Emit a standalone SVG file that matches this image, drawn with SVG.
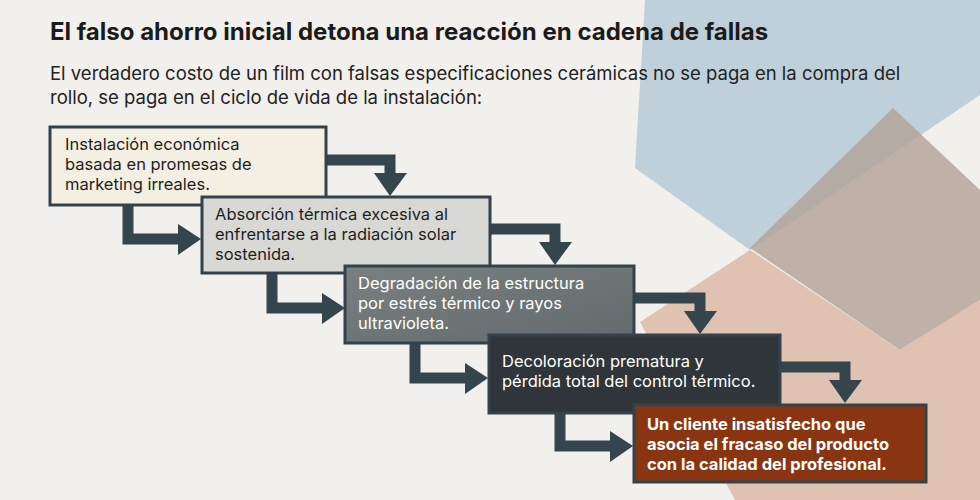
<svg xmlns="http://www.w3.org/2000/svg" width="980" height="500" viewBox="0 0 980 500">
<defs>
<style>
.t{font-family:Inter,"Liberation Sans",sans-serif;font-size:16.5px}
.b{stroke:#34434b;stroke-width:3}
.c{fill:none;stroke:#34454d;stroke-width:11;stroke-linejoin:miter}
.h{fill:#34454d}
</style>
<linearGradient id="g3" x1="0" y1="0" x2="1" y2="1"><stop offset="0" stop-color="#7a8080"/><stop offset="1" stop-color="#626a6b"/></linearGradient>
</defs>
<rect width="980" height="500" fill="#f1f0ec"/>
<polygon points="645,0 980,0 980,95 750,250 635,168" fill="#b9ccd8" opacity="0.9"/>
<polygon points="893,108 980,190 980,300 900,350 750,248" fill="#b3a197" opacity="0.8"/>
<polygon points="640,322 750,250 900,350 980,300 980,500 735,500" fill="#d9b3a0" opacity="0.75"/>
<text x="50" y="40" font-family="Inter,'Liberation Sans',sans-serif" font-size="24" font-weight="bold" fill="#1b1b1b">El falso ahorro inicial detona una reacción en cadena de fallas</text>
<text font-family="Inter,'Liberation Sans',sans-serif" font-size="18.5" fill="#222"><tspan x="50" y="80">El verdadero costo de un film con falsas especificaciones cerámicas no se paga en la compra del</tspan><tspan x="50" y="104">rollo, se paga en el ciclo de vida de la instalación:</tspan></text>
<g id="connectors">
<path class="c" d="M326,160H390V175"/><polygon class="h" points="374,173 407,173 390,196"/>
<path class="c" d="M490,229H555V244"/><polygon class="h" points="539,242 572,242 555,265"/>
<path class="c" d="M634,298H700V313"/><polygon class="h" points="684,311 717,311 700,334"/>
<path class="c" d="M780,367H845V382"/><polygon class="h" points="829,380 862,380 845,403"/>
<path class="c" d="M128,205V239H180"/><polygon class="h" points="178,224 178,255 201,239"/>
<path class="c" d="M272,273V308H324"/><polygon class="h" points="322,293 322,324 345,308"/>
<path class="c" d="M415,343V378H467"/><polygon class="h" points="465,363 465,394 488,378"/>
<path class="c" d="M560,413V446H612"/><polygon class="h" points="610,431 610,462 633,446"/>
</g>
<g id="n1"><rect class="b" x="50" y="127" width="276" height="78" fill="#f3efe2"/><text class="t" fill="#1e1e1e"><tspan x="65" y="150">Instalación económica</tspan><tspan x="65" y="170">basada en promesas de</tspan><tspan x="65" y="190">marketing irreales.</tspan></text></g>
<g id="n2"><rect class="b" x="202" y="197" width="288" height="76" fill="#d8d8d5"/><text class="t" fill="#1e1e1e"><tspan x="215" y="220">Absorción térmica excesiva al</tspan><tspan x="215" y="240">enfrentarse a la radiación solar</tspan><tspan x="215" y="260">sostenida.</tspan></text></g>
<g id="n3"><rect class="b" x="345" y="266" width="289" height="77" fill="url(#g3)"/><text class="t" fill="#fff"><tspan x="358" y="289">Degradación de la estructura</tspan><tspan x="358" y="309">por estrés térmico y rayos</tspan><tspan x="358" y="329">ultravioleta.</tspan></text></g>
<g id="n4"><rect class="b" x="489" y="335" width="291" height="78" fill="#2f3538"/><text class="t" fill="#fff"><tspan x="502" y="367">Decoloración prematura y</tspan><tspan x="502" y="387">pérdida total del control térmico.</tspan></text></g>
<g id="n5"><rect class="b" x="634" y="405" width="292" height="77" fill="#8a3512"/><text class="t" fill="#fff" font-weight="bold"><tspan x="647" y="430">Un cliente insatisfecho que</tspan><tspan x="647" y="450">asocia el fracaso del producto</tspan><tspan x="647" y="470">con la calidad del profesional.</tspan></text></g>
</svg>
